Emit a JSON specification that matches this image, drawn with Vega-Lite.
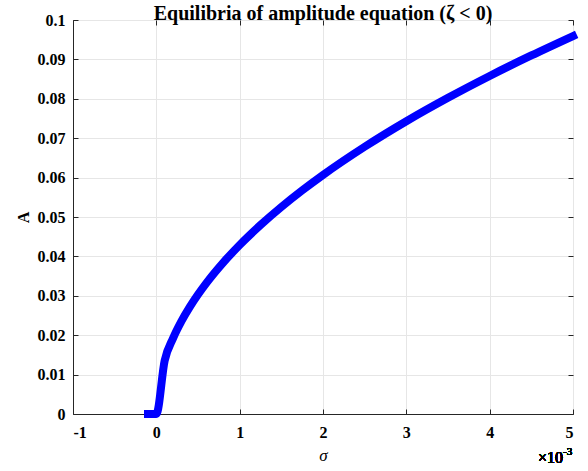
{
  "$schema": "https://vega.github.io/schema/vega-lite/v6.json",
  "width": 500,
  "height": 394,
  "autosize": {"type": "none"},
  "padding": {"left": 73, "top": 20, "right": 15, "bottom": 57},
  "background": "white",
  "title": {
    "text": "Equilibria of amplitude equation (ζ < 0)",
    "font": "Liberation Serif",
    "fontSize": 20,
    "fontWeight": "bold",
    "color": "#000000",
    "offset": 3,
    "dy": 15,
    "anchor": "middle"
  },
  "config": {
    "view": {"stroke": "#262626", "strokeWidth": 1},
    "axis": {
      "labelFont": "Liberation Serif",
      "labelFontSize": 16,
      "labelFontWeight": "bold",
      "labelColor": "#000000",
      "titleFont": "Liberation Serif",
      "titleColor": "#000000",
      "domainColor": "#262626",
      "tickColor": "#262626",
      "gridColor": "#e6e6e6",
      "gridOpacity": 1,
      "tickSize": -5
    }
  },
  "data": {
    "values": [
      {"sigma": -0.1, "A": 0},
      {"sigma": -0.05, "A": 0},
      {"sigma": 0, "A": 0},
      {"sigma": 0.1, "A": 0.01357},
      {"sigma": 0.2, "A": 0.01919},
      {"sigma": 0.3, "A": 0.0235},
      {"sigma": 0.4, "A": 0.02713},
      {"sigma": 0.5, "A": 0.03033},
      {"sigma": 0.6, "A": 0.03323},
      {"sigma": 0.8, "A": 0.03837},
      {"sigma": 1.0, "A": 0.0429},
      {"sigma": 1.25, "A": 0.04796},
      {"sigma": 1.5, "A": 0.05254},
      {"sigma": 1.75, "A": 0.05675},
      {"sigma": 2.0, "A": 0.06067},
      {"sigma": 2.5, "A": 0.06783},
      {"sigma": 3.0, "A": 0.07431},
      {"sigma": 3.5, "A": 0.08026},
      {"sigma": 4.0, "A": 0.0858},
      {"sigma": 4.5, "A": 0.091},
      {"sigma": 5.0, "A": 0.09593}
    ]
  },
  "resolve": {"axis": {"x": "independent", "y": "independent"}},
  "layer": [
    {
      "mark": {"type": "line", "color": "#0000ff", "strokeWidth": 8, "strokeCap": "square", "strokeJoin": "round", "interpolate": "monotone", "clip": false},
      "encoding": {
        "x": {
          "field": "sigma", "type": "quantitative",
          "scale": {"domain": [-1, 5], "nice": false, "zero": false},
          "axis": {
            "values": [-1, 0, 1, 2, 3, 4, 5],
            "labelExpr": "datum.value < 0 ? '-' + abs(datum.value) : datum.label",
            "title": "σ",
            "titleFontSize": 17,
            "titleFontWeight": "normal",
            "titleFontStyle": "italic",
            "titlePadding": 7,
            "labelPadding": 15,
            "grid": true
          }
        },
        "y": {
          "field": "A", "type": "quantitative",
          "scale": {"domain": [0, 0.1], "nice": false},
          "axis": {
            "values": [0, 0.01, 0.02, 0.03, 0.04, 0.05, 0.06, 0.07, 0.08, 0.09, 0.1],
            "format": ".2~f",
            "title": "A",
            "titleFontSize": 16,
            "titleFontWeight": "bold",
            "titlePadding": 6,
            "labelPadding": 13,
            "grid": true
          }
        }
      }
    },
    {
      "mark": {"type": "text", "font": "Liberation Serif", "fontSize": 16, "fontWeight": "normal", "color": "#000000", "align": "right", "baseline": "middle", "dy": 44, "dx": -10},
      "encoding": {
        "x": {"datum": 5, "type": "quantitative", "axis": {"orient": "top", "labels": false, "title": null, "domain": false, "grid": false, "values": [-1, 0, 1, 2, 3, 4, 5]}},
        "y": {"datum": 0, "type": "quantitative", "axis": {"orient": "right", "labels": false, "title": null, "domain": false, "grid": false, "values": [0, 0.01, 0.02, 0.03, 0.04, 0.05, 0.06, 0.07, 0.08, 0.09, 0.1]}},
        "text": {"value": "×10"}
      }
    },
    {
      "mark": {"type": "text", "font": "Liberation Serif", "fontSize": 11, "fontWeight": "normal", "color": "#000000", "align": "left", "baseline": "middle", "dy": 38, "dx": -10},
      "encoding": {
        "x": {"datum": 5, "type": "quantitative", "axis": null},
        "y": {"datum": 0, "type": "quantitative", "axis": null},
        "text": {"value": "-3"}
      }
    }
  ]
}
